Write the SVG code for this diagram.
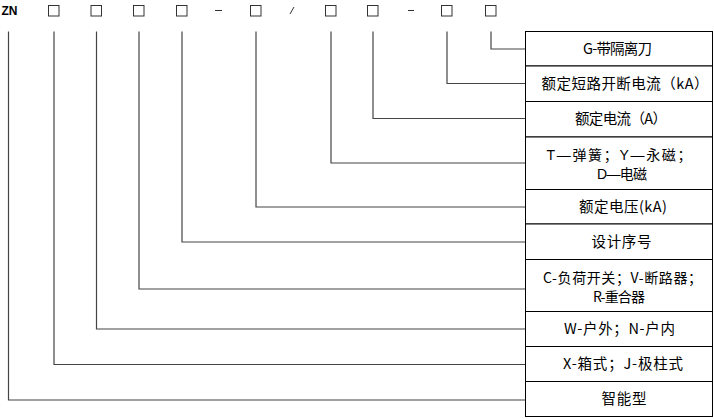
<svg xmlns="http://www.w3.org/2000/svg" width="714" height="419" viewBox="0 0 714 419">
<style>
.sym{fill:none;stroke:#333;stroke-width:1}
.conn{fill:none;stroke:#444;stroke-width:1.2}
.cell{fill:#fff;stroke:#000;stroke-width:1}
.t{font-family:"Noto Sans CJK SC","Noto Sans",sans-serif;font-size:14.5px;fill:#000}
.t2{font-family:"Noto Sans CJK SC","Noto Sans",sans-serif;font-size:14px;fill:#000}
.t3{font-family:"Liberation Sans","Noto Sans CJK SC",sans-serif;font-size:14px;fill:#000}
.zn{font-family:"Liberation Sans",sans-serif;font-weight:bold;font-size:12px;fill:#000}
</style>
<rect width="714" height="419" fill="#fff"/>
<g id="code">
<text class="zn" x="1.5" y="15">ZN</text>
<rect class="sym" x="48.5" y="5.5" width="10.5" height="10.5"/>
<rect class="sym" x="91" y="5.5" width="10.5" height="10.5"/>
<rect class="sym" x="133.5" y="5.5" width="10.5" height="10.5"/>
<rect class="sym" x="176.5" y="5.5" width="10.5" height="10.5"/>
<line class="sym" x1="215" y1="10.5" x2="222" y2="10.5"/>
<rect class="sym" x="250.5" y="5.5" width="10.5" height="10.5"/>
<line class="sym" x1="290" y1="14" x2="294" y2="7"/>
<rect class="sym" x="325.5" y="5.5" width="10.5" height="10.5"/>
<rect class="sym" x="367.5" y="5.5" width="10.5" height="10.5"/>
<line class="sym" x1="408" y1="10.5" x2="414" y2="10.5"/>
<rect class="sym" x="441.5" y="5.5" width="10.5" height="10.5"/>
<rect class="sym" x="485.5" y="5.5" width="10.5" height="10.5"/>
</g>
<g id="connectors">
<polyline class="conn" points="8.5,31.5 8.5,400 525,400"/>
<polyline class="conn" points="54,31.5 54,364.5 525,364.5"/>
<polyline class="conn" points="96.5,31.5 96.5,329 525,329"/>
<polyline class="conn" points="139,31.5 139,289 525,289"/>
<polyline class="conn" points="182,31.5 182,242 525,242"/>
<polyline class="conn" points="256,31.5 256,207 525,207"/>
<polyline class="conn" points="331,31.5 331,163 525,163"/>
<polyline class="conn" points="373,31.5 373,118.5 525,118.5"/>
<polyline class="conn" points="447,31.5 447,83.5 525,83.5"/>
<polyline class="conn" points="491,31.5 491,49 525,49"/>
</g>
<g id="row-g"><rect class="cell" x="525.5" y="31.5" width="187" height="34.5"/><text class="t" x="583" y="54" textLength="69" lengthAdjust="spacing">G-带隔离刀</text></g>
<g id="row-ik"><rect class="cell" x="525.5" y="66" width="187" height="35.5"/><text class="t" x="541.5" y="89" textLength="167" lengthAdjust="spacing">额定短路开断电流（kA）</text></g>
<g id="row-ia"><rect class="cell" x="525.5" y="101.5" width="187" height="35.5"/><text class="t" x="575" y="124" textLength="92" lengthAdjust="spacing">额定电流（A）</text></g>
<g id="row-mech"><rect class="cell" x="525.5" y="137" width="187" height="52.5"/><text class="t3" x="546.5" y="160" textLength="145" lengthAdjust="spacing">T—弹簧；Y—永磁；</text><text class="t3" x="597" y="179" textLength="50" lengthAdjust="spacing">D—电磁</text></g>
<g id="row-u"><rect class="cell" x="525.5" y="189.5" width="187" height="34.5"/><text class="t" x="579" y="212" textLength="88" lengthAdjust="spacing">额定电压(kA)</text></g>
<g id="row-d"><rect class="cell" x="525.5" y="224" width="187" height="35.5"/><text class="t" x="591.5" y="247" textLength="60" lengthAdjust="spacing">设计序号</text></g>
<g id="row-type"><rect class="cell" x="525.5" y="259.5" width="187" height="52"/><text class="t2" x="543" y="283" textLength="159" lengthAdjust="spacing">C-负荷开关；V-断路器；</text><text class="t2" x="593" y="302" textLength="52" lengthAdjust="spacing">R-重合器</text></g>
<g id="row-loc"><rect class="cell" x="525.5" y="311.5" width="187" height="35"/><text class="t" x="564" y="334" textLength="111" lengthAdjust="spacing">W-户外；N-户内</text></g>
<g id="row-str"><rect class="cell" x="525.5" y="346.5" width="187" height="35"/><text class="t" x="563" y="369" textLength="120" lengthAdjust="spacing">X-箱式；J-极柱式</text></g>
<g id="row-int"><rect class="cell" x="525.5" y="381.5" width="187" height="35"/><text class="t" x="601.5" y="404" textLength="45" lengthAdjust="spacing">智能型</text></g>
</svg>
